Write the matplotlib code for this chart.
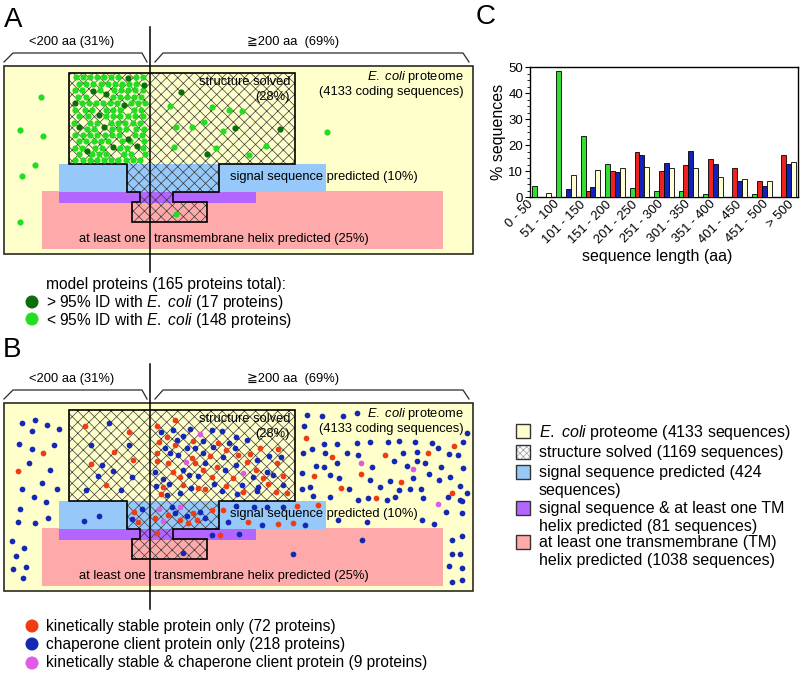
import numpy as np
import matplotlib
matplotlib.use('Agg')
import matplotlib.pyplot as plt
from matplotlib.patches import Rectangle, Polygon

plt.rcParams['font.family'] = ['Liberation Sans', 'DejaVu Sans', 'Noto Sans CJK JP']
plt.rcParams['mathtext.fontset'] = 'custom'
plt.rcParams['mathtext.rm'] = 'Liberation Sans'
plt.rcParams['mathtext.it'] = 'Liberation Sans:italic'
plt.rcParams['hatch.linewidth'] = 0.5

# ---------------- panel C data ----------------
categories = ['0 - 50', '51 - 100', '101 - 150', '151 - 200', '201 - 250', '251 - 300',
              '301 - 350', '351 - 400', '401 - 450', '451 - 500', '> 500']
model_pct = [4.3, 48.5, 23.5, 12.7, 3.6, 2.5, 2.4, 1.2, 0, 1.2, 0]
kinetic_pct = [0, 0, 2.5, 10.0, 17.3, 9.9, 12.3, 14.8, 11.1, 6.2, 16.0]
chaperone_pct = [0, 3.1, 4.0, 9.7, 16.3, 13.2, 17.6, 12.8, 6.2, 4.4, 12.8]
proteome_pct = [1.5, 8.3, 10.4, 11.0, 11.6, 11.3, 11.1, 7.8, 6.8, 6.2, 13.6]
series_names = ['model proteins (165 total)', 'kinetically stable proteins (81 total)',
                'chaperone client proteins (227 total)', r'$\mathit{E.\ coli}$ proteome (4133 total)']

# ---------------- panel A dots (pixel positions) ----------------
a_cluster_rows = [
    (77, [76, 83, 90, 97, 104, 111, 118, 136, 143]),
    (84, [79, 86, 93, 101, 108, 115, 122, 129, 136]),
    (90, [75, 82, 100, 114, 121, 128, 135, 143]),
    (97, [78, 86, 113, 120, 127, 134, 141]),
    (103, [82, 89, 96, 103, 110, 117, 131, 138, 145]),
    (110, [75, 85, 92, 106, 113, 120, 134, 141]),
    (116, [79, 88, 106, 113, 120, 128, 135, 143]),
    (123, [74, 90, 97, 111, 118, 125, 133, 140]),
    (129, [87, 94, 112, 119, 126, 136, 144]),
    (135, [75, 83, 90, 97, 105, 112, 119, 135, 142]),
    (141, [79, 86, 94, 101, 108, 122, 130, 144]),
    (148, [75, 82, 95, 102, 120, 127, 143]),
    (154, [79, 92, 99, 106, 124, 131, 145]),
    (160, [75, 83, 90, 97, 104, 111, 118, 126, 133, 140]),
]
a_light_other = [(41, 97), (20, 130), (43, 136), (35, 165), (22, 176), (20, 222),
                 (170, 106), (212, 107), (229, 110), (242, 111), (204, 122), (176, 127),
                 (192, 127), (223, 131), (174, 147), (216, 148), (266, 146), (249, 155),
                 (176, 214), (327, 132)]
a_dark = [(128, 78), (144, 85), (93, 91), (106, 94), (75, 103), (124, 105), (99, 115),
          (104, 127), (79, 127), (128, 139), (113, 147), (137, 146), (87, 151),
          (181, 92), (235, 128), (280, 129), (207, 154)]

# ---------------- panel B dots (pixel positions, panel A frame) ----------------
b_red = [(43, 453), (18, 471), (85, 426), (129, 432), (114, 452), (91, 464), (133, 460),
         (106, 485), (134, 512), (138, 522),
         (175, 420), (157, 426), (167, 437), (159, 442), (193, 441), (218, 443), (175, 445),
         (226, 450), (260, 448), (278, 449), (157, 453), (192, 458), (210, 456), (238, 455),
         (250, 454), (157, 461), (168, 463), (195, 463), (217, 467), (247, 462), (277, 463),
         (173, 472), (203, 470), (256, 470), (180, 477), (212, 477), (233, 478), (263, 478),
         (283, 476), (163, 487), (183, 485), (198, 488), (205, 489), (226, 486), (268, 484),
         (161, 494), (243, 492), (276, 492), (287, 493),
         (193, 513), (212, 510), (168, 515), (155, 518), (180, 520), (188, 523), (197, 520),
         (223, 510), (297, 506), (318, 505), (248, 522), (278, 524), (293, 523),
         (157, 533), (220, 535),
         (306, 438), (454, 446), (332, 457), (385, 455), (428, 453), (314, 476), (361, 474),
         (401, 482), (341, 488), (452, 493), (376, 498)]
b_magenta = [(200, 434), (186, 462), (243, 473), (159, 509), (180, 507), (163, 521),
             (361, 463), (413, 469), (438, 504)]
b_blue = [(22, 423), (35, 420), (47, 425), (59, 429), (32, 431), (19, 444), (32, 449),
          (54, 445), (29, 463), (50, 470), (42, 483), (22, 489), (57, 489), (34, 497),
          (46, 502), (20, 509), (18, 522), (35, 523), (48, 518), (12, 541), (24, 548),
          (16, 556), (13, 569), (26, 567), (23, 578),
          (109, 423), (91, 445), (129, 445), (102, 465), (113, 471), (98, 476), (132, 477),
          (86, 490), (121, 490), (84, 521), (99, 516), (142, 509), (132, 519),
          (173, 430), (190, 429), (212, 430), (222, 431), (161, 432), (183, 436), (236, 437),
          (247, 440), (177, 440), (203, 441), (229, 443), (165, 448), (187, 448), (195, 448),
          (213, 447), (235, 448), (170, 453), (178, 455), (203, 453), (223, 457), (269, 456),
          (281, 457), (205, 463), (236, 465), (257, 460), (155, 472), (183, 470), (225, 470),
          (267, 472), (163, 479), (189, 475), (198, 476), (253, 477), (273, 475), (156, 486),
          (169, 484), (191, 488), (214, 484), (242, 485), (258, 487), (283, 485), (167, 495),
          (180, 493), (222, 491), (237, 494), (257, 491),
          (172, 507), (200, 512), (175, 513), (187, 516), (205, 518),
          (236, 506), (254, 507), (267, 507), (283, 507), (228, 522), (262, 525), (305, 525),
          (212, 535), (239, 534), (183, 553), (293, 554), (362, 540),
          (307, 415), (322, 416), (343, 416), (357, 413), (304, 426), (467, 433),
          (324, 444), (337, 444), (357, 443), (370, 442), (388, 442), (399, 441), (415, 442),
          (432, 443), (463, 442),
          (303, 453), (312, 449), (325, 453), (347, 453), (358, 455), (403, 453), (417, 452),
          (438, 448), (449, 454), (458, 455),
          (316, 466), (324, 467), (337, 463), (372, 467), (394, 461), (407, 466), (417, 461),
          (425, 463), (441, 467), (463, 468),
          (302, 473), (330, 475), (339, 478), (370, 480), (390, 481), (413, 478), (429, 474),
          (439, 480), (450, 477), (460, 486),
          (302, 489), (310, 487), (349, 489), (358, 500), (380, 487), (399, 490), (410, 489),
          (421, 489), (467, 493),
          (313, 496), (330, 497), (368, 498), (387, 500), (395, 497), (423, 498), (448, 497),
          (460, 500),
          (338, 520), (367, 522), (422, 520), (434, 524), (446, 512), (462, 513), (462, 501),
          (452, 540), (462, 536), (452, 554), (460, 554), (449, 566), (462, 568), (452, 582),
          (462, 580)]

YELLOW = '#FFFFCC'
EDGE = '#2b2b22'
BLUE_BOX = '#96C8FA'
PURPLE = '#B266FF'
PINK = '#FFAAAA'
GREEN = '#22DD22'
DKGREEN = '#0B6E0B'
RED = '#F03C14'
DBLUE = '#1428B4'
MAGENTA = '#E05AE6'
TXT = 9.3

fig = plt.figure(figsize=(8, 6.73), dpi=100)
ov = fig.add_axes([0, 0, 1, 1])
ov.set_xlim(0, 800)
ov.set_ylim(673, 0)
ov.axis('off')

struct_outline = [(69, 73), (295, 73), (295, 164), (219, 164), (219, 192), (173, 192),
                  (173, 202), (207, 202), (207, 222), (132, 222), (132, 202), (140, 202),
                  (140, 192), (127, 192), (127, 164), (69, 164)]


def draw_panel(dy):
    ov.add_patch(Rectangle((4, 66 + dy), 469, 188, fc=YELLOW, ec=EDGE, lw=1.2, zorder=1))
    ov.add_patch(Rectangle((42, 191 + dy), 401, 58, fc=PINK, lw=0, zorder=2))
    ov.add_patch(Rectangle((59, 192 + dy), 197, 11, fc=PURPLE, lw=0, zorder=3))
    ov.add_patch(Rectangle((59, 164 + dy), 267, 28, fc=BLUE_BOX, lw=0, zorder=4))
    pts = [(x, y + dy) for x, y in struct_outline]
    ov.add_patch(Polygon(pts, closed=True, fill=False, ec='#3a3a3a', lw=0, hatch='xxx', zorder=5))
    ov.add_patch(Polygon(pts, closed=True, fill=False, ec='black', lw=1.2, zorder=6))
    # brackets
    ov.plot([4, 13, 142, 147], [62 + dy, 53 + dy, 53 + dy, 62 + dy], color=EDGE, lw=0.9, zorder=6)
    ov.plot([155, 163, 463, 469], [62 + dy, 53 + dy, 53 + dy, 62 + dy], color=EDGE, lw=0.9, zorder=6)
    ov.text(72, 42 + dy, '<200 aa (31%)', fontsize=TXT, ha='center', va='center')
    ov.text(293, 42 + dy, '≧200 aa  (69%)', fontsize=TXT, ha='center', va='center')
    kw = dict(fontsize=TXT, va='center', zorder=8)
    ov.text(290, 82 + dy, 'structure solved', ha='right', **kw)
    ov.text(290, 97 + dy, '(28%)', ha='right', **kw)
    ov.text(464, 77 + dy, r'$\mathit{E.\ coli}$ proteome', ha='right', **kw)
    ov.text(464, 92 + dy, '(4133 coding sequences)', ha='right', **kw)
    ov.text(230, 177 + dy, 'signal sequence predicted (10%)', ha='left', **kw)
    ov.text(146, 239 + dy, 'at least one', ha='right', **kw)
    ov.text(154, 239 + dy, 'transmembrane helix predicted (25%)', ha='left', **kw)
    ov.plot([150, 150], [27 + dy, 272 + dy], color='black', lw=1.1, zorder=9)


draw_panel(0)
draw_panel(337)

# panel A dots
light = [(x, y) for y, xs in a_cluster_rows for x in xs] + a_light_other
lx, ly = zip(*light)
ov.scatter(lx, ly, s=20, color=GREEN, lw=0, zorder=7)
dx, dy_ = zip(*a_dark)
ov.scatter(dx, dy_, s=20, color=DKGREEN, lw=0, zorder=7)

# panel B dots
for pts, col in [(b_blue, DBLUE), (b_red, RED), (b_magenta, MAGENTA)]:
    xs, ys = zip(*pts)
    ov.scatter(xs, ys, s=17, color=col, lw=0, zorder=7)

# panel letters
ov.text(4, 20, 'A', fontsize=20, ha='left', va='center')
ov.text(3, 350, 'B', fontsize=20, ha='left', va='center')
ov.text(476, 17, 'C', fontsize=20, ha='left', va='center')

# legend A
LEG = 11.2
ov.text(46, 284, 'model proteins (165 proteins total):', fontsize=LEG, va='center')
ov.scatter([32, 32], [302, 319], s=88, color=[DKGREEN, GREEN], lw=0)
ov.text(46, 302, r'> 95% ID with $\mathit{E.\ coli}$ (17 proteins)', fontsize=LEG, va='center')
ov.text(46, 320, r'< 95% ID with $\mathit{E.\ coli}$ (148 proteins)', fontsize=LEG, va='center')

# legend B
ov.scatter([32, 32, 32], [626, 644, 663], s=88, color=[RED, DBLUE, MAGENTA], lw=0)
ov.text(46, 626, 'kinetically stable protein only (72 proteins)', fontsize=LEG, va='center')
ov.text(46, 644, 'chaperone client protein only (218 proteins)', fontsize=LEG, va='center')
ov.text(46, 663, 'kinetically stable & chaperone client protein (9 proteins)', fontsize=LEG, va='center')

# right legend of B
leg_items = [
    (YELLOW, None, 431, [r'$\mathit{E.\ coli}$ proteome (4133 sequences)']),
    ('white', 'xxxxx', 452, ['structure solved (1169 sequences)']),
    (BLUE_BOX, None, 472, ['signal sequence predicted (424', 'sequences)']),
    (PURPLE, None, 508, ['signal sequence & at least one TM', 'helix predicted (81 sequences)']),
    (PINK, None, 542, ['at least one transmembrane (TM)', 'helix predicted (1038 sequences)']),
]
for fc, hatch, yc, lines in leg_items:
    ov.add_patch(Rectangle((516, yc - 7), 14, 14, fc=fc, ec='none', lw=0))
    if hatch:
        ov.add_patch(Rectangle((516, yc - 7), 14, 14, fill=False, ec='#999999', hatch=hatch, lw=0))
    ov.add_patch(Rectangle((516, yc - 7), 14, 14, fill=False, ec='#333333', lw=1.0))
    for k, line in enumerate(lines):
        ov.text(539, yc + 1 + 18 * k, line, fontsize=11.5, va='center')

# ---------------- panel C bar chart ----------------
axc = fig.add_axes([530 / 800, 1 - 197 / 673, 268 / 800, 130 / 673])
x = np.arange(len(categories))
bar_cols = ['#33DD33', '#EE2222', '#1122BB', '#FFFFD2']
for k, (vals, col) in enumerate(zip([model_pct, kinetic_pct, chaperone_pct, proteome_pct], bar_cols)):
    axc.bar(x - 0.3 + 0.2 * k, vals, width=0.2, color=col, edgecolor='black', lw=0.6, zorder=3)
axc.set_xlim(-0.47, 10.48)
axc.set_ylim(0, 50)
axc.set_yticks(range(0, 51, 10))
axc.set_yticks(np.arange(0, 50, 2.5), minor=True)
axc.tick_params(axis='y', which='major', length=3.5, width=0.8, labelsize=9.5, pad=1.5)
axc.tick_params(axis='y', which='minor', length=2, width=0.6)
axc.set_xticks(np.arange(len(categories)) * 1.065 - 0.4)
axc.set_xticklabels(categories, rotation=45, ha='right', va='center', rotation_mode='anchor', fontsize=9.3)
axc.tick_params(axis='x', length=0, pad=4)
for sp in axc.spines.values():
    sp.set_linewidth(1.0)
axc.set_ylabel('% sequences', fontsize=11.5)
axc.yaxis.set_label_coords(-0.088, 0.5)
axc.set_xlabel('sequence length (aa)', fontsize=11.5)
axc.xaxis.set_label_coords(0.474, -0.40)

# chart legend drawn in figure pixel frame
for k, (name, col) in enumerate(zip(series_names, bar_cols)):
    yc = 77 + 13.7 * k
    ov.add_patch(Rectangle((573, yc - 6), 12, 12, fc=col, ec='black', lw=0.8, zorder=10))
    ov.text(588, yc + 0.5, name, fontsize=9.3, va='center', zorder=10)

fig.savefig('out.png', dpi=100)
